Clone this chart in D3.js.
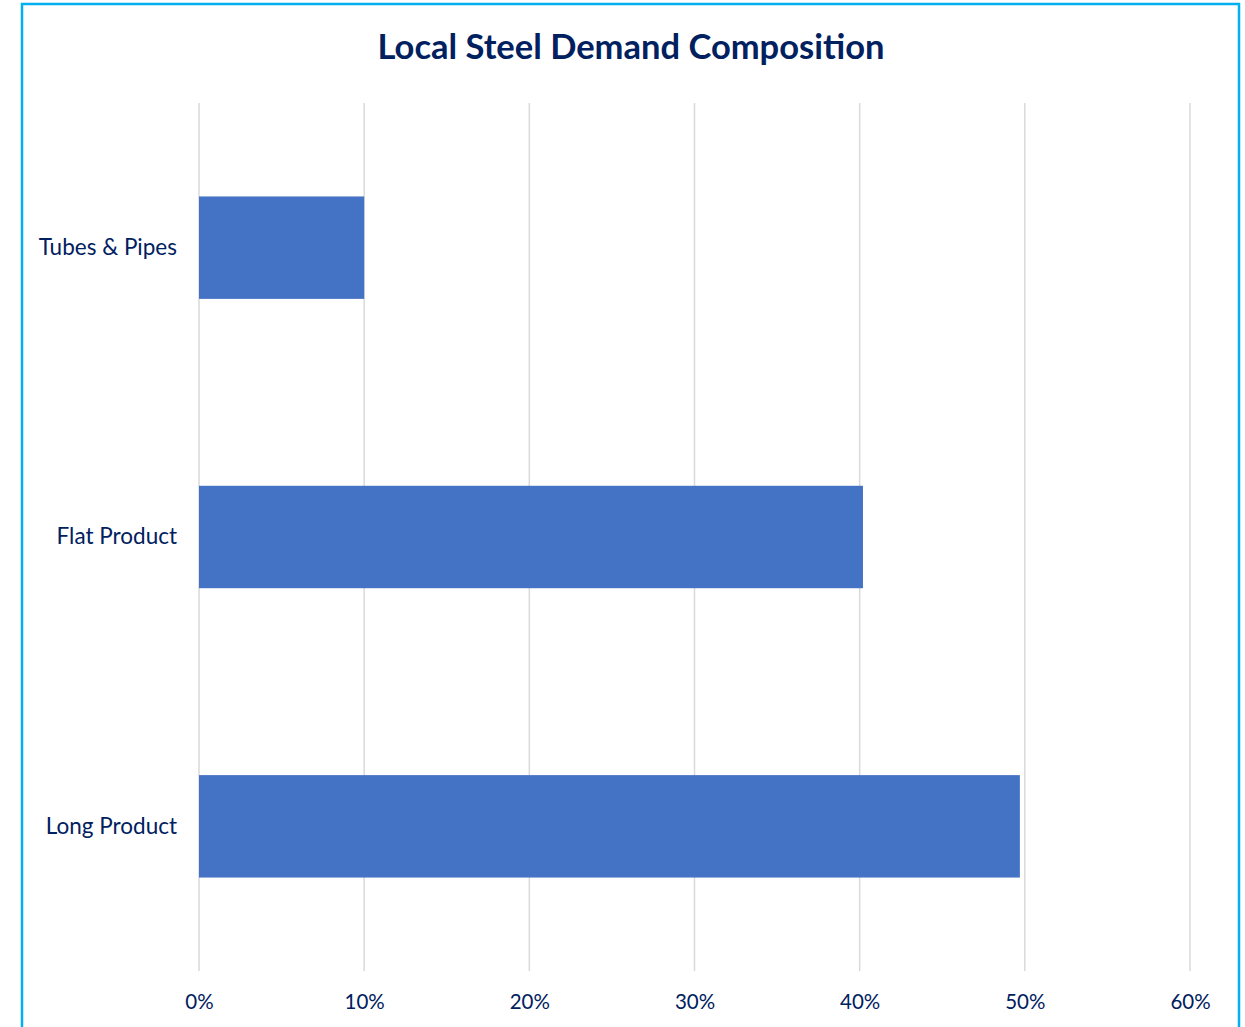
<!DOCTYPE html>
<html><head><meta charset="utf-8">
<script src="https://cdn.jsdelivr.net/npm/d3@7"></script>
<style>body{margin:0;background:#fff}svg{display:block}</style>
</head><body>
<svg id="c" width="1245" height="1027"></svg>
<script>
const categories = ["Tubes & Pipes", "Flat Product", "Long Product"];
const values = [0.1, 0.402, 0.497];
const ticks = [0, 0.1, 0.2, 0.3, 0.4, 0.5, 0.6];
const title = "Local Steel Demand Composition";

(function () {
const svg = d3.select("#c");
const navy = "#002060";
const font = "Lato, 'Open Sans', sans-serif";
const pl = 199, pr = 1190, pt = 103, pb = 971;

svg.append("rect").attr("x", 22).attr("y", 4).attr("width", 1217).attr("height", 1060)
  .attr("fill", "#fff").attr("stroke", "#00B0F0").attr("stroke-width", 2.5);

const x = d3.scaleLinear().domain([0, 0.6]).range([pl, pr]);
const y = d3.scaleBand().domain(categories).range([pt, pb]).paddingInner(0.646).paddingOuter(0.323);

svg.append("g").selectAll("line").data(ticks).join("line")
  .attr("x1", d => x(d)).attr("x2", d => x(d)).attr("y1", pt).attr("y2", pb)
  .attr("stroke", "#D9D9D9").attr("stroke-width", 1.5);

svg.append("g").selectAll("rect").data(categories).join("rect")
  .attr("x", x(0)).attr("y", d => y(d)).attr("height", y.bandwidth())
  .attr("width", (d, i) => x(values[i]) - x(0)).attr("fill", "#4472C4");

const xAxis = d3.axisBottom(x).tickValues(ticks).tickFormat(d3.format(".0%")).tickSize(0).tickPadding(0);
const gx = svg.append("g").attr("transform", `translate(0,${pb + 23})`).call(xAxis);
gx.select(".domain").remove();
gx.selectAll("text").attr("fill", navy).attr("font-family", font).attr("font-size", 20.5).attr("dy", "0.71em");

const yAxis = d3.axisLeft(y).tickSize(0).tickPadding(22);
const gy = svg.append("g").attr("transform", `translate(${pl},0)`).call(yAxis);
gy.select(".domain").remove();
gy.selectAll("text").attr("fill", navy).attr("font-family", font).attr("font-size", 22.5);

svg.append("text").attr("x", 631).attr("y", 59).attr("text-anchor", "middle")
  .attr("font-family", font).attr("font-weight", "bold").attr("font-size", 34.5)
  .attr("fill", navy).text(title);
})();
</script>
</body></html>
